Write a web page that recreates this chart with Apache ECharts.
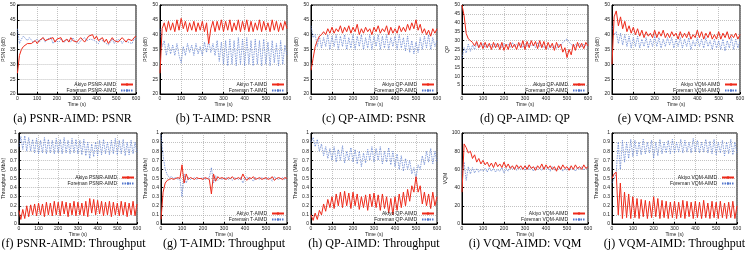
<!DOCTYPE html>
<html>
<head>
<meta charset="utf-8">
<script src="https://cdn.jsdelivr.net/npm/echarts@6/dist/echarts.min.js"></script>
<style>
  html, body { margin: 0; padding: 0; background: #fff; }
  #main { width: 748px; height: 253px; }
</style>
</head>
<body>
<div id="main"></div>
<script>
// sample every 10 s, 0..600
var STEP = 10;

// (a) PSNR-AIMD: PSNR
var aAkiyo = [27,33,35,36,36.5,37,37.5,37,37.5,38, 37,38,38.5,39,38,37.5,38.5,38,39,37.5, 38.5,38,39,37.5,38,38.5,37.5,39,38,38.5, 37.5,38,39,38.5,37.5,38,39.5,39,40,38.5, 39.5,38,38.5,39,37.5,38.5,37,38,39,38, 38.5,37.5,38,39,38.5,37.5,38.5,39,38,39, 39.5];
var aForeman = [42,37,38.5,39.5,40,38,39,38.5,37.5,38, 38.5,37.5,38,39,37.5,38.5,38,39,37,38, 38.5,37.5,38.5,39,37.5,38.5,38,37.5,39,38, 38.5,37,38,38.5,39,38,37.5,38.5,39,38, 38,37,38.5,39,37.5,38,36.5,37.5,38.5,37, 38,37.5,38.5,37,38,38.5,37.5,38,37,38.5, 38.5];
// (b) T-AIMD: PSNR
var bAkiyo = [27,42,44,41,44.5,41.5,44,41,45,41.5, 45.5,42,44.5,41,44,41.5,44.5,41,44,41.5, 44.5,41,44,37,42,44.5,41,44.5,41.5,45, 41,44.5,41.5,45,41,44,41.5,45,41,44.5, 41.5,45,41,44.5,41,44,41.5,45,41,44.5, 41.5,44,41,45,41.5,44.5,41,44,41.5,44.5, 42];
var bForeman = [42,36,38,33,37,33.5,36.5,33,37,33, 30.5,36,33,37,34,36.5,33,37,33.5,36, 33,37.5,34,38,34,37,33,38,31,37.5, 30,38,29.5,38.5,30,38,29.5,39,30,38.5, 29.5,39,30,38,29.5,38.5,30,38,29.5,38.5, 30,37.5,29.5,38,30.5,37,29.5,38,30,36.5, 33];
// (c) QP-AIMD: PSNR
var cAkiyo = [28,32,36,38,39.5,40,41,40,42,40.5, 42.5,40.5,42,41,43,40.5,42.5,41,43,40.5, 42.5,41,43.5,40,42,40.5,42.5,41,42,40, 42.5,41,43,40.5,42,41,43,40,42.5,40.5, 42,40.5,43,41,42.5,41,43.5,41.5,44,42, 45,41.5,43.5,40.5,42,40,41.5,39.5,42,40.5, 42];
var cForeman = [43,39,40,36,39.5,35.5,39,36,40,35, 39.5,36,40,35,39.5,36,40,35,39,35.5, 40,35,39.5,36,40,35,39,35.5,40,35, 39.5,36,40,35,39.5,35.5,40,35,39,36, 39.5,35,40,35.5,39,34.5,39.5,34,38,33.5, 37.5,34,39,35,39.5,35.5,40,35,39,36, 38];
// (d) QP-AIMD: QP
var dAkiyo = [50,44,34,31,30,29,27,29.5,26,29, 25.5,29,26,28.5,25,29,26,28.5,25,29, 24.5,28,25,29,26,28,25,29,26,30, 25,29.5,26,30,27,29.5,25.5,30,26,29.5, 25,29,26,28.5,24.5,29,26,28,23.5,26, 20.5,25,22,28,24.5,29,26,28.5,25.5,29, 27];
var dForeman = [20,26,23,28,24,27.5,25,28.5,26,27, 28.5,26,28,26.5,28,26,28.5,26.5,28,26, 28.5,27,28,26,29,26.5,28,27,28.5,26, 28,26.5,28.5,27,28,26,29,26.5,28,26, 27,25.5,27.5,26,27,25.5,28,27,29,30, 31,29,28,26.5,28,27,28.5,26.5,28,27, 27.5];
// (e) VQM-AIMD: PSNR
var eAkiyo = [30,46,48,43,46,42,44.5,41,43,40.5, 42.5,40,42,39.5,41.5,39,41,39.5,40.5,39, 41.5,39,41,39.5,41.5,39,40.5,39,41,39.5, 40.5,38.5,41,39,40.5,39,41,38.5,40,39, 41.5,39,41,38.5,40.5,39,41,38.5,40,38.5, 41,38.5,40.5,39,41,38.5,40,39,40.5,38.5, 40];
var eForeman = [43,40,41,37,40.5,36.5,40,36,39.5,35.5, 39,36,39.5,35.5,38.5,36,39,35.5,38.5,36, 39.5,36,39,35.5,38.5,36,39,36.5,39,35.5, 38.5,36,39,35.5,38.5,36,39,35,38,36, 39,36,38.5,35.5,39,36,38,35,38.5,35.5, 38,35,38.5,34.5,38,35.5,39,35,38.5,35.5, 38];
// (f) PSNR-AIMD: Throughput
var fAkiyo = [0.15,0.05,0.16,0.06,0.2,0.08,0.21,0.1,0.22,0.09, 0.23,0.1,0.22,0.08,0.24,0.1,0.23,0.09,0.25,0.1, 0.24,0.09,0.25,0.11,0.24,0.08,0.23,0.1,0.25,0.09, 0.24,0.1,0.23,0.09,0.25,0.08,0.28,0.12,0.27,0.1, 0.26,0.11,0.25,0.09,0.24,0.1,0.25,0.08,0.24,0.1, 0.23,0.09,0.25,0.1,0.24,0.08,0.23,0.1,0.25,0.09, 0.22];
var fForeman = [0.85,0.96,0.82,0.97,0.8,0.95,0.8,0.93,0.78,0.94, 0.77,0.92,0.78,0.95,0.77,0.93,0.78,0.92,0.77,0.94, 0.78,0.93,0.77,0.95,0.78,0.92,0.77,0.94,0.78,0.93, 0.77,0.92,0.76,0.93,0.75,0.9,0.72,0.88,0.74,0.9, 0.75,0.92,0.76,0.93,0.77,0.9,0.76,0.92,0.77,0.94, 0.76,0.92,0.77,0.93,0.75,0.9,0.76,0.92,0.77,0.9, 0.78];
// (g) T-AIMD: Throughput
var gAkiyo = [0.05,0.35,0.45,0.48,0.49,0.5,0.49,0.5,0.51,0.5, 0.65,0.45,0.55,0.49,0.51,0.5,0.49,0.51,0.5,0.5, 0.49,0.51,0.5,0.49,0.33,0.55,0.47,0.52,0.5,0.51, 0.5,0.49,0.51,0.5,0.52,0.49,0.5,0.51,0.49,0.55, 0.5,0.48,0.51,0.5,0.52,0.49,0.5,0.51,0.49,0.5, 0.51,0.49,0.5,0.52,0.48,0.5,0.51,0.5,0.49,0.51, 0.5];
var gForeman = [0.98,0.75,0.6,0.54,0.51,0.52,0.5,0.51,0.49,0.5, 0.3,0.55,0.45,0.51,0.49,0.5,0.51,0.49,0.5,0.5, 0.51,0.49,0.5,0.51,0.62,0.45,0.53,0.48,0.5,0.49, 0.5,0.51,0.49,0.5,0.48,0.51,0.5,0.49,0.51,0.45, 0.5,0.52,0.49,0.5,0.47,0.51,0.5,0.49,0.51,0.5, 0.49,0.51,0.5,0.47,0.52,0.5,0.49,0.5,0.51,0.49, 0.5];
// (h) QP-AIMD: Throughput
var hAkiyo = [0.1,0.04,0.12,0.05,0.15,0.1,0.22,0.14,0.27,0.18, 0.3,0.17,0.33,0.2,0.35,0.18,0.36,0.2,0.34,0.17, 0.35,0.2,0.33,0.16,0.3,0.18,0.32,0.15,0.33,0.19, 0.34,0.18,0.32,0.15,0.33,0.17,0.3,0.12,0.28,0.1, 0.3,0.15,0.33,0.18,0.35,0.2,0.38,0.25,0.42,0.35, 0.52,0.35,0.42,0.22,0.35,0.2,0.33,0.17,0.35,0.2, 0.3];
var hForeman = [0.9,0.95,0.85,0.93,0.8,0.88,0.75,0.85,0.72,0.83, 0.7,0.85,0.68,0.82,0.7,0.86,0.67,0.8,0.7,0.84, 0.68,0.82,0.66,0.8,0.63,0.78,0.67,0.82,0.7,0.85, 0.68,0.83,0.7,0.85,0.66,0.8,0.68,0.84,0.65,0.8, 0.63,0.77,0.6,0.75,0.58,0.72,0.6,0.7,0.55,0.62, 0.5,0.65,0.6,0.75,0.65,0.8,0.68,0.83,0.66,0.8, 0.68];
// (i) VQM-AIMD: VQM
var iAkiyo = [35,88,84,78,80,72,76,68,72,66, 70,65,68,63,67,62,68,63,66,62, 68,62,66,61,64,60,65,61,64,60, 64,60,65,61,63,59,64,61,66,60, 65,61,64,60,63,58,64,60,65,61, 63,59,64,60,65,61,63,60,65,61, 63];
var iForeman = [55,68,48,63,55,62,56,61,57,60, 58,61,57,62,58,61,57,60,58,62, 56,61,58,63,60,62,59,63,60,62, 59,63,60,62,58,63,60,61,59,63, 60,62,58,63,59,61,60,62,58,61, 59,62,60,61,58,62,60,63,59,62, 61];
// (j) VQM-AIMD: Throughput
var jAkiyo = [0.5,0.55,0.57,0.1,0.45,0.06,0.35,0.07,0.33,0.06, 0.3,0.07,0.28,0.06,0.27,0.08,0.26,0.06,0.25,0.07, 0.3,0.08,0.28,0.06,0.26,0.07,0.25,0.06,0.24,0.07, 0.25,0.06,0.24,0.07,0.26,0.06,0.25,0.08,0.24,0.06, 0.25,0.07,0.24,0.06,0.26,0.07,0.23,0.06,0.25,0.07, 0.24,0.06,0.25,0.07,0.23,0.06,0.24,0.07,0.25,0.06, 0.2];
var jForeman = [0.45,0.5,0.55,0.9,0.6,0.92,0.68,0.9,0.72,0.93, 0.74,0.92,0.75,0.9,0.76,0.93,0.77,0.9,0.78,0.92, 0.72,0.9,0.75,0.93,0.77,0.9,0.78,0.92,0.77,0.93, 0.78,0.9,0.79,0.93,0.78,0.92,0.79,0.9,0.78,0.94, 0.79,0.92,0.78,0.9,0.79,0.93,0.78,0.91,0.77,0.93, 0.76,0.9,0.78,0.92,0.75,0.9,0.77,0.93,0.76,0.9, 0.78];

var captions = ['(a) PSNR-AIMD: PSNR', '(b) T-AIMD: PSNR', '(c) QP-AIMD: PSNR', '(d) QP-AIMD: QP', '(e) VQM-AIMD: PSNR',
  '(f) PSNR-AIMD: Throughput', '(g) T-AIMD: Throughput', '(h) QP-AIMD: Throughput', '(i) VQM-AIMD: VQM', '(j) VQM-AIMD: Throughput'];

var panels = [
  { algo: 'PSNR-AIMD', akiyo: aAkiyo, foreman: aForeman, yName: 'PSNR (dB)', min: 20, max: 50, step: 5, box: [9, 5, 127, 89], legendTop: 82 },
  { algo: 'T-AIMD', akiyo: bAkiyo, foreman: bForeman, yName: 'PSNR (dB)', min: 20, max: 50, step: 5, box: [160, 5, 127, 89], legendTop: 82 },
  { algo: 'QP-AIMD', akiyo: cAkiyo, foreman: cForeman, yName: 'PSNR (dB)', min: 20, max: 50, step: 5, box: [311, 5, 126, 89], legendTop: 82 },
  { algo: 'QP-AIMD', akiyo: dAkiyo, foreman: dForeman, yName: 'QP', min: 0, max: 50, step: 5, box: [462, 5, 126, 89], legendTop: 82, hideZero: true },
  { algo: 'VQM-AIMD', akiyo: eAkiyo, foreman: eForeman, yName: 'PSNR (dB)', min: 20, max: 50, step: 5, box: [612, 5, 128, 89], legendTop: 82 },
  { algo: 'PSNR-AIMD', akiyo: fAkiyo, foreman: fForeman, yName: 'Throughput (Mb/s)', min: 0, max: 1, step: 0.1, box: [10, 133, 127, 91], legendTop: 175 },
  { algo: 'T-AIMD', akiyo: gAkiyo, foreman: gForeman, yName: 'Throughput (Mb/s)', min: 0, max: 1, step: 0.1, box: [161, 133, 126, 91], legendTop: 211 },
  { algo: 'QP-AIMD', akiyo: hAkiyo, foreman: hForeman, yName: 'Throughput (Mb/s)', min: 0, max: 1, step: 0.1, box: [311, 133, 126, 91], legendTop: 211 },
  { algo: 'VQM-AIMD', akiyo: iAkiyo, foreman: iForeman, yName: 'VQM', min: 0, max: 100, step: 20, box: [462, 133, 126, 91], legendTop: 211 },
  { algo: 'VQM-AIMD', akiyo: jAkiyo, foreman: jForeman, yName: 'Throughput (Mb/s)', min: 0, max: 1, step: 0.1, box: [612, 133, 125, 91], legendTop: 175 }
];

function pts(arr) {
  return arr.map(function (v, i) { return [i * STEP, v]; });
}

var RED = '#ee2a1a';
var BLUE = '#5577cc';
var small = { fontSize: 5, color: '#222', fontFamily: 'Liberation Sans' };

var grid = [], xAxis = [], yAxis = [], series = [], legend = [], graphic = [];

panels.forEach(function (p, k) {
  var b = p.box;
  grid.push({ left: b[0], top: b[1], width: b[2], height: b[3], show: true, borderColor: '#000', borderWidth: 1, backgroundColor: '#fff' });
  xAxis.push({
    gridIndex: k, type: 'value', min: 0, max: 600, interval: 100,
    name: 'Time (s)', nameLocation: 'middle', nameGap: 7, nameTextStyle: small,
    axisLine: { lineStyle: { color: '#000' } },
    axisTick: { inside: true, length: 2, lineStyle: { color: '#000' } },
    axisLabel: Object.assign({ margin: 2 }, small),
    splitLine: { lineStyle: { color: '#999', type: [1, 1], width: 0.6 } }
  });
  yAxis.push({
    gridIndex: k, type: 'value', min: p.min, max: p.max, interval: p.step,
    name: p.yName, nameLocation: 'middle', nameGap: 11, nameRotate: 90, nameTextStyle: small,
    axisLine: { lineStyle: { color: '#000' } },
    axisTick: { inside: true, length: 2, lineStyle: { color: '#000' } },
    axisLabel: Object.assign({
      margin: 2,
      formatter: function (v) { return (p.hideZero && v === 0) ? '' : String(Math.round(v * 10) / 10); }
    }, small),
    splitLine: { lineStyle: { color: '#999', type: [1, 1], width: 0.6 } }
  });
  var nA = 'Akiyo ' + p.algo, nF = 'Foreman ' + p.algo;
  series.push({
    name: nA, type: 'line', xAxisIndex: k, yAxisIndex: k, data: pts(p.akiyo),
    symbol: 'none', lineStyle: { color: RED, width: 1 }, itemStyle: { color: RED }, z: 3, animation: false
  });
  series.push({
    name: nF, type: 'line', xAxisIndex: k, yAxisIndex: k, data: pts(p.foreman),
    symbol: 'none', lineStyle: { color: BLUE, width: 0.7, type: [1.5, 1] }, itemStyle: { color: BLUE }, z: 2, animation: false
  });
  legend.push({
    data: [nA, nF], orient: 'vertical', align: 'right',
    right: 748 - (b[0] + b[2]) + 2, top: p.legendTop,
    itemWidth: 12, itemHeight: 3, itemGap: 1, padding: 0,
    textStyle: { fontSize: 5, color: '#222', fontFamily: 'Liberation Sans' },
    selectedMode: false
  });
  // caption centred under the panel
  graphic.push({
    type: 'text', x: b[0] + b[2] / 2, y: k < 5 ? 119 : 244,
    style: {
      text: captions[k], fontSize: 12, fontFamily: 'Liberation Serif', fill: '#000',
      align: 'center', verticalAlign: 'middle'
    }
  });
});

var myChart = echarts.init(document.getElementById('main'), null, { renderer: 'canvas' });
myChart.setOption({
  animation: false,
  backgroundColor: '#fff',
  grid: grid, xAxis: xAxis, yAxis: yAxis, series: series, legend: legend, graphic: graphic
});
</script>
</body>
</html>
